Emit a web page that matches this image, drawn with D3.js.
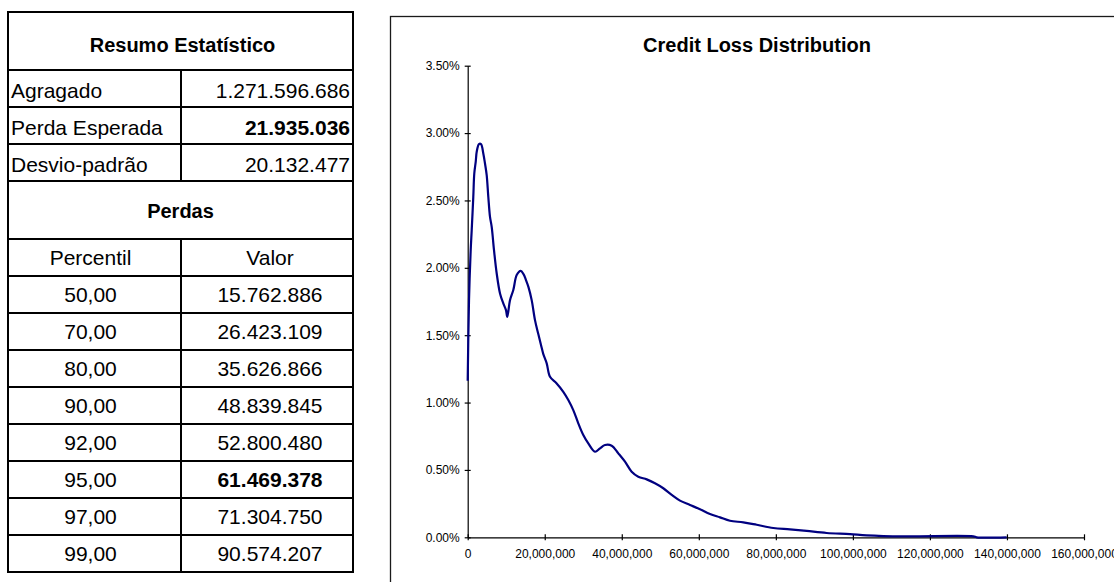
<!DOCTYPE html>
<html>
<head>
<meta charset="utf-8">
<script src="https://cdn.jsdelivr.net/npm/d3@7"></script>
<style>
  body { margin: 0; background: #fff; }
  svg { display: block; font-family: "Liberation Sans", Arial, sans-serif; }
</style>
</head>
<body>
<svg id="sheet" width="1114" height="582"></svg>
<script>
// ---- Summary table ----
const summaryLabels = ["Agragado", "Perda Esperada", "Desvio-padrão"];
const summaryValues = ["1.271.596.686", "21.935.036", "20.132.477"];
const percentileHeader = ["Percentil", "Valor"];
const percentiles = ["50,00", "70,00", "80,00", "90,00", "92,00", "95,00", "97,00", "99,00"];
const percentileValues = ["15.762.886", "26.423.109", "35.626.866", "48.839.845",
                          "52.800.480", "61.469.378", "71.304.750", "90.574.207"];

// ---- Loss distribution (loss amount, probability) ----
const lossAmounts = [
  0, 0.34e6, 0.78e6, 1.04e6, 1.45e6, 1.71e6, 2.08e6, 2.34e6, 2.93e6, 3.45e6,
  4.05e6, 4.49e6, 4.93e6, 5.35e6, 5.79e6, 6.23e6, 6.83e6, 7.53e6, 8.39e6, 9.24e6,
  9.94e6, 10.28e6, 10.98e6, 11.84e6, 12.72e6, 13.76e6, 14.49e6, 15.13e6, 15.78e6, 16.61e6,
  17.47e6, 18.33e6, 19.03e6, 19.63e6, 20.51e6, 21.37e6, 23.10e6, 24.82e6, 26.12e6, 27.41e6,
  28.71e6, 30.01e6, 31.31e6, 33.05e6, 34.35e6, 35.64e6, 37.38e6, 39.10e6, 40.84e6, 42.57e6,
  44.29e6, 46.47e6, 48.62e6, 50.78e6, 52.96e6, 55.11e6, 57.71e6, 60.31e6, 62.90e6, 65.50e6,
  68.09e6, 71.55e6, 75.02e6, 79.33e6, 83.67e6, 88.00e6, 93.20e6, 99.25e6, 103.58e6, 113.08e6,
  131.26e6, 132.14e6, 139.93e6
];
const lossProbability = [
  0.01162, 0.01760, 0.02131, 0.02280, 0.02525, 0.02700, 0.02786, 0.02861, 0.02918, 0.02918,
  0.02849, 0.02774, 0.02688, 0.02527, 0.02378, 0.02304, 0.02131, 0.01958, 0.01810, 0.01736,
  0.01686, 0.01636, 0.01760, 0.01835, 0.01946, 0.01978, 0.01953, 0.01909, 0.01857, 0.01760,
  0.01612, 0.01508, 0.01427, 0.01360, 0.01291, 0.01191, 0.01142, 0.01080, 0.01019, 0.00944,
  0.00846, 0.00759, 0.00697, 0.00635, 0.00660, 0.00685, 0.00680, 0.00623, 0.00561, 0.00487,
  0.00450, 0.00430, 0.00401, 0.00364, 0.00314, 0.00272, 0.00240, 0.00208, 0.00173, 0.00148,
  0.00123, 0.00111, 0.00093, 0.00069, 0.00059, 0.00047, 0.00032, 0.00024, 0.00015, 0.00007,
  0.00007, 0.00000, 0.00000
];
const xTicks = [0, 20e6, 40e6, 60e6, 80e6, 100e6, 120e6, 140e6, 160e6];
const yTicks = [0, 0.005, 0.01, 0.015, 0.02, 0.025, 0.03, 0.035];
const chartTitle = "Credit Loss Distribution";
const tableTitle = "Resumo Estatístico";
const lossesTitle = "Perdas";

const svg = d3.select("#sheet");

// ===== Table =====
const T = { left: 8, right: 353, mid: 181, top: 12 };
const titleH = 58, rowH = 37;
const tbl = svg.append("g");
const line = (x1, y1, x2, y2) =>
  tbl.append("line").attr("x1", x1).attr("y1", y1).attr("x2", x2).attr("y2", y2)
     .attr("stroke", "#000").attr("stroke-width", 2);

let y0 = T.top;
// title row
tbl.append("text").attr("x", (T.left + T.right) / 2 + 2).attr("y", y0 + 40)
   .attr("text-anchor", "middle").attr("font-weight", "bold").attr("font-size", 20)
   .text(tableTitle);
y0 += titleH;
line(T.left, y0, T.right, y0);
const sumTop = y0;
summaryLabels.forEach((lab, i) => {
  const yc = y0 + rowH / 2 + 2;
  tbl.append("text").attr("x", T.left + 3).attr("y", yc).attr("dy", "0.36em")
     .attr("font-size", 21).text(lab);
  tbl.append("text").attr("x", T.right - 3).attr("y", yc).attr("dy", "0.36em")
     .attr("text-anchor", "end").attr("font-size", 21)
     .attr("font-weight", lab === "Perda Esperada" ? "bold" : "normal")
     .text(summaryValues[i]);
  y0 += rowH;
  line(T.left, y0, T.right, y0);
});
line(T.mid, sumTop, T.mid, y0);
// losses title row
tbl.append("text").attr("x", (T.left + T.right) / 2).attr("y", y0 + 37)
   .attr("text-anchor", "middle").attr("font-weight", "bold").attr("font-size", 20)
   .text(lossesTitle);
y0 += titleH;
line(T.left, y0, T.right, y0);
const pTop = y0;
const rows = [percentileHeader].concat(percentiles.map((p, i) => [p, percentileValues[i]]));
rows.forEach((r, i) => {
  const yc = y0 + rowH / 2;
  tbl.append("text").attr("x", (T.left + T.mid) / 2 - 4).attr("y", yc).attr("dy", "0.36em")
     .attr("text-anchor", "middle").attr("font-size", 21).text(r[0]);
  tbl.append("text").attr("x", (T.mid + T.right) / 2 + 3).attr("y", yc).attr("dy", "0.36em")
     .attr("text-anchor", "middle").attr("font-size", 21)
     .attr("font-weight", r[0] === "95,00" ? "bold" : "normal").text(r[1]);
  y0 += rowH;
  if (i < rows.length - 1) line(T.left, y0, T.right, y0);
});
line(T.mid, pTop, T.mid, y0);
tbl.append("rect").attr("x", T.left).attr("y", T.top)
   .attr("width", T.right - T.left).attr("height", y0 - T.top)
   .attr("fill", "none").attr("stroke", "#000").attr("stroke-width", 2);

// ===== Chart =====
const chart = svg.append("g");
chart.append("rect").attr("x", 390.5).attr("y", 16.5).attr("width", 800).attr("height", 700)
     .attr("fill", "#fff").attr("stroke", "#1a1a1a").attr("stroke-width", 1.3);

chart.append("text").attr("x", 757).attr("y", 52).attr("text-anchor", "middle")
     .attr("font-weight", "bold").attr("font-size", 20).text(chartTitle);

const x = d3.scaleLinear().domain([0, 160e6]).range([467.7, 1084]);
const y = d3.scaleLinear().domain([0, 0.035]).range([537.3, 65.7]);

const xAxis = chart.append("g").attr("transform", `translate(0,${y(0)})`)
  .call(d3.axisBottom(x).tickValues(xTicks).tickFormat(d3.format(","))
        .tickSizeInner(3).tickSizeOuter(0).tickPadding(9));
xAxis.selectAll(".tick line").attr("y1", -3).attr("y2", 3);

const yAxis = chart.append("g").attr("transform", `translate(${x(0)},0)`)
  .call(d3.axisLeft(y).tickValues(yTicks).tickFormat(d3.format(".2%"))
        .tickSizeInner(3).tickSizeOuter(0).tickPadding(5));
yAxis.selectAll(".tick line").attr("x1", -3).attr("x2", 3);

[xAxis, yAxis].forEach(a => {
  a.selectAll("text").attr("font-size", 12).attr("font-family", '"Liberation Sans", Arial, sans-serif')
   .attr("fill", "#000");
  a.selectAll("line, path").attr("stroke", "#000").attr("stroke-width", 1.2);
});

const pts = lossAmounts.map((v, i) => [v, lossProbability[i]]);
chart.append("path").datum(pts)
  .attr("fill", "none").attr("stroke", "#000080").attr("stroke-width", 2.2)
  .attr("stroke-linejoin", "round")
  .attr("d", d3.line().x(d => x(d[0])).y(d => y(d[1])).curve(d3.curveCatmullRom));
</script>
</body>
</html>
